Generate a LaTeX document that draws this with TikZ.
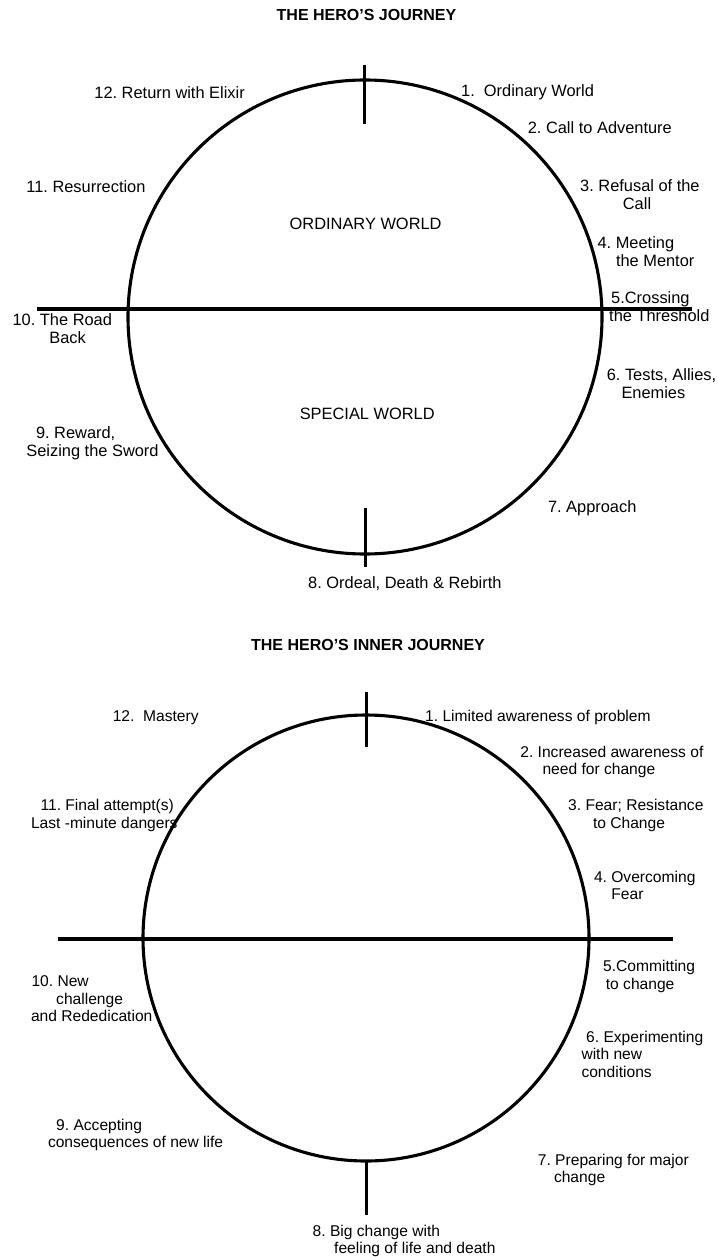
\documentclass[tikz,border=0pt]{standalone}
\usepackage{fontspec}
\setmainfont{Liberation Sans}
\frenchspacing
% stacked label lines, baseline on the first line
\newcommand\labtext[1]{\begin{tabular}[t]{@{}l@{}}#1\end{tabular}}
\begin{document}
\begin{tikzpicture}[x=1pt,y=-1pt,
  ring/.style={line width=3.1pt},
  bar/.style={line width=3.1pt},
  ttl/.style={anchor=base,inner sep=0pt,font=\bfseries\fontsize{16}{18}\selectfont},
  labA/.style={anchor=base west,inner sep=0pt,font=\fontsize{16.4}{18}\selectfont},
  labB/.style={anchor=base west,inner sep=0pt,font=\fontsize{15.6}{17.4}\selectfont}]
\fill[white] (0,0) rectangle (717,1257);
\useasboundingbox (0,0) rectangle (717,1257);

% ---------- outer journey ----------
\node[ttl] (titleA) at (366.5,20.7) {THE HERO’S JOURNEY};
\coordinate (cA) at (365,317);
\draw[ring] (cA) circle (237pt);
\coordinate (hAl) at (37,309);
\coordinate (hAr) at (692,309);
\draw[bar] (hAl) -- (hAr);
\coordinate (vAt1) at (364.5,65);
\coordinate (vAt2) at (364.5,124);
\draw[bar] (vAt1) -- (vAt2);
\coordinate (vAb1) at (365.7,508);
\coordinate (vAb2) at (365.7,567);
\draw[bar] (vAb1) -- (vAb2);

\node[labA] (worldA) at (289.5,230) {ORDINARY WORLD};
\node[labA] (worldB) at (299.6,419) {SPECIAL WORLD};

\node[labA] (a1) at (461,96.7) {1.~~Ordinary World};
\node[labA] (a2) at (527.6,134) {2. Call to Adventure};
\node[labA] (a3) at (580,191.7) {\labtext{3. Refusal of the\\\hspace*{42.7pt}Call}};
\node[labA] (a4) at (597.4,248.3) {\labtext{4. Meeting\\\hspace*{18.4pt}the Mentor}};
\node[labA] (a5) at (609,303.5) {\labtext{\hspace*{2pt}5.Crossing\\the Threshold}};
\node[labA] (a6) at (606.6,380) {\labtext{6. Tests, Allies,\\\hspace*{14.7pt}Enemies}};
\node[labA] (a7) at (547.8,512.3) {7. Approach};
\node[labA] (a8) at (308,588.3) {8. Ordeal, Death \& Rebirth};
\node[labA] (a9) at (26.2,438.3) {\labtext{\hspace*{9.6pt}9. Reward,\\Seizing the Sword}};
\node[labA] (a10) at (12.4,325) {\labtext{10. The Road\\\hspace*{36.8pt}Back}};
\node[labA] (a11) at (26.2,192.7) {11. Resurrection};
\node[labA] (a12) at (94.2,98.3) {12. Return with Elixir};

% ---------- inner journey ----------
\node[ttl] (titleB) at (368,650.7) {THE HERO’S INNER JOURNEY};
\coordinate (cB) at (366,938);
\draw[ring] (cB) circle (223pt);
\coordinate (hBl) at (58,939);
\coordinate (hBr) at (673,939);
\draw[bar] (hBl) -- (hBr);
\coordinate (vBt1) at (366.7,692);
\coordinate (vBt2) at (366.7,747);
\draw[bar] (vBt1) -- (vBt2);
\coordinate (vBb1) at (366.7,1160);
\coordinate (vBb2) at (366.7,1215);
\draw[bar] (vBb1) -- (vBb2);

\node[labB] (b1) at (425,721.7) {1. Limited awareness of problem};
\node[labB] (b2) at (520.2,757.3) {\labtext{2. Increased awareness of\\\hspace*{22.1pt}need for change}};
\node[labB] (b3) at (568,810.7) {\labtext{3. Fear; Resistance\\\hspace*{24.8pt}to Change}};
\node[labB] (b4) at (593.8,882.3) {\labtext{4. Overcoming\\\hspace*{17.4pt}Fear}};
\node[labB] (b5) at (603,971.7) {\labtext{5.Committing\\\hspace*{2.7pt}to change}};
\node[labB] (b6) at (581.3,1042.3) {\labtext{\hspace*{4.7pt}6. Experimenting\\with new\\conditions}};
\node[labB] (b7) at (537.7,1165) {\labtext{7. Preparing for major\\\hspace*{16.1pt}change}};
\node[labB] (b8) at (312.5,1236) {\labtext{8. Big change with\\\hspace*{21.5pt}feeling of life and death}};
\node[labB] (b9) at (47.8,1130) {\labtext{\hspace*{8.2pt}9. Accepting\\consequences of new life}};
\node[labB] (b10) at (30.8,986.7) {\labtext{\hspace*{0.5pt}10. New\\\hspace*{25.2pt}challenge\\and Rededication}};
\node[labB] (b11) at (30.8,810.7) {\labtext{\hspace*{9.6pt}11. Final attempt(s)\\Last -minute dangers}};
\node[labB] (b12) at (112.6,721.7) {12.~~Mastery};
\end{tikzpicture}
\end{document}
